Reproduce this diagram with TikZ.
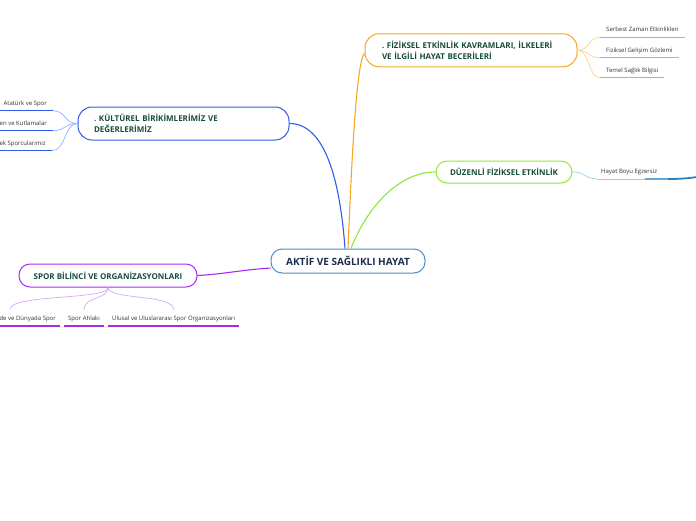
\documentclass[tikz,border=0pt]{standalone}
\usepackage{fontspec}
\setmainfont{Open Sans}
\frenchspacing
\definecolor{navy}{HTML}{1F2D4D}
\definecolor{dgreen}{HTML}{174B3A}
\definecolor{leafc}{HTML}{333333}
\definecolor{cenc}{HTML}{4A8CC8}
\definecolor{blueC}{HTML}{2F5BEA}
\definecolor{blueL}{HTML}{8FB0FF}
\definecolor{orangeC}{HTML}{F5A623}
\definecolor{orangeL}{HTML}{FCD28C}
\definecolor{greenC}{HTML}{8DE83A}
\definecolor{purpleC}{HTML}{A32CF0}
\definecolor{purpleL}{HTML}{D8A6F7}
\definecolor{hblueL}{HTML}{9CCDE8}
\definecolor{hblueD}{HTML}{2A80C0}
\tikzset{
  mnode/.style={draw, fill=white, line width=1pt, rounded corners=11pt, text=dgreen,
    font=\fontsize{8}{11}\selectfont\bfseries},
  leaf/.style={inner xsep=5pt, inner ysep=4pt, text=leafc, font=\fontsize{6}{7}\selectfont,
    text height=4.5pt, text depth=1.5pt},
  main/.style={line width=1.1pt},
  sub/.style={line width=0.7pt},
  uline/.style={line width=1.3pt}
}
\begin{document}
\begin{tikzpicture}[x=1pt,y=-1pt]
\useasboundingbox (0,0) rectangle (696,520);

% main nodes
\node[mnode, draw=cenc, minimum width=154pt, minimum height=24pt, text=navy,
  font=\fontsize{10}{12}\selectfont\bfseries] (cen) at (348,261) {AKTİF VE SAĞLIKLI HAYAT};
\node[mnode, draw=blueC, minimum width=211pt, minimum height=33pt, rounded corners=14pt,
  text width=179pt, align=left, inner xsep=16pt] (kul) at (183.5,123.5)
  {. KÜLTÜREL BİRİKİMLERİMİZ VE\\DEĞERLERİMİZ};
\node[mnode, draw=orangeC, minimum width=212pt, minimum height=33pt, rounded corners=14pt,
  text width=178pt, align=left, inner xsep=17pt] (fiz) at (471,50.3)
  {. FİZİKSEL ETKİNLİK KAVRAMLARI, İLKELERİ\\VE İLGİLİ HAYAT BECERİLERİ};
\node[mnode, draw=greenC, minimum width=136pt, minimum height=22pt] (dz) at (504,172)
  {DÜZENLİ FİZİKSEL ETKİNLİK};
\node[mnode, draw=purpleC, minimum width=178pt, minimum height=23pt] (spor) at (108,275.5)
  {SPOR BİLİNCİ VE ORGANİZASYONLARI};

% main connectors
\draw[main, blueC] ([xshift=-3pt]cen.north) .. controls (340,180) and (325,123.5) .. (kul.east);
\draw[main, orangeC] (cen.north) .. controls (352,150) and (357,60) .. ([yshift=-3pt]fiz.west);
\draw[main, greenC] ([xshift=3pt]cen.north) .. controls (368,205) and (400,172) .. (dz.west);
\draw[main, purpleC] ([yshift=-7pt]cen.west) .. controls (240,270) and (225,274) .. (spor.east);

% Kültürel leaves
\node[leaf, anchor=south east, inner xsep=6pt] (k1) at (53,110.7) {Atatürk ve Spor};
\node[leaf, anchor=south east, inner xsep=6pt] (k2) at (53,130.7) {en ve Kutlamalar};
\node[leaf, anchor=south east, inner xsep=6pt] (k3) at (52,150.7) {ek Sporcularımız};
\foreach \k in {k1,k2,k3}{
  \draw[uline, blueC] (\k.south east) -- ++(-60,0);
  \draw[sub, blueL] (kul.west) .. controls (64,123.5) and (66,0 |- \k.south east) .. (\k.south east);
}

% Fiziksel leaves
\node[leaf, anchor=south west, inner xsep=6pt] (f1) at (600,37.3) {Serbest Zaman Etkinlikleri};
\node[leaf, anchor=south west, inner xsep=6pt] (f2) at (600,57.7) {Fiziksel Gelişim Gözlemi};
\node[leaf, anchor=south west, inner xsep=6pt] (f3) at (600,77.7) {Temel Sağlık Bilgisi};
\foreach \f in {f1,f2,f3}{
  \draw[uline, orangeC] (\f.south west) -- (\f.south east);
  \draw[sub, orangeL] (fiz.east) .. controls (590,50.3) and (588,0 |- \f.south west) .. (\f.south west);
}

% Düzenli leaf
\node[leaf, anchor=south west, inner xsep=3pt] (h1) at (598,179) {Hayat Boyu Egzersiz};
\draw[sub, hblueL] (dz.east) .. controls (586,172) and (584,179) .. (h1.south west);
\draw[line width=0.8pt, hblueL] (h1.south west) -- (650,179);
\draw[line width=1.3pt, hblueD!70] (645,179) -- (672,179);
\draw[line width=1.8pt, hblueD] (668,179) .. controls (682,179) and (690,178) .. (697,177);

% Spor leaves
\node[leaf, anchor=south east, inner xsep=4pt] (s1) at (60,326) {de ve Dünyada Spor};
\node[leaf, anchor=south west, inner xsep=4pt] (s2) at (64,326) {Spor Ahlakı};
\node[leaf, anchor=south west, inner xsep=4pt] (s3) at (108,326) {Ulusal ve Uluslararası Spor Organizasyonları};
\draw[uline, purpleC] (s1.south east) -- ++(-64,0);
\draw[uline, purpleC] (s2.south west) -- (s2.south east);
\draw[uline, purpleC] (s3.south west) -- (s3.south east);
\coordinate (t1) at (10,309);
\draw[sub, purpleL] (spor.south) .. controls (108,300) and (12,294) .. (t1);
\draw[sub, purpleL] (spor.south) .. controls (108,300) and (84,296) .. ([yshift=2pt]s2.north);
\draw[sub, purpleL] (spor.south) .. controls (108,300) and (174,294) .. ([yshift=2pt]s3.north);
\end{tikzpicture}
\end{document}
